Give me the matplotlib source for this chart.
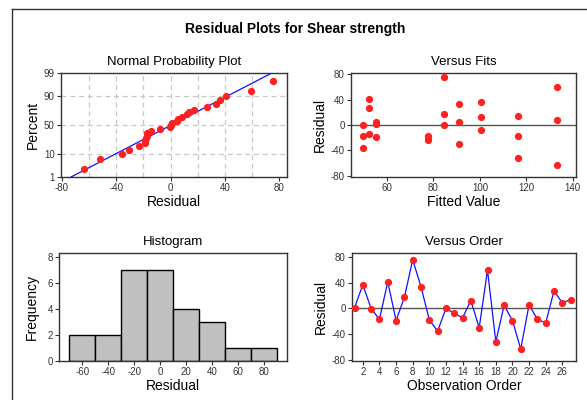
import numpy as np
import matplotlib
matplotlib.use('Agg')
import matplotlib.pyplot as plt
from matplotlib.lines import Line2D
from statistics import NormalDist

plt.rcParams['font.family'] = ['Liberation Sans', 'DejaVu Sans']
plt.rcParams['axes.unicode_minus'] = False

# residuals in observation order
residuals = [1, 36.5, -0.5, -17, 41, -19, 17, 75.5, 33.5, -18, -35.5, 0, -8, -14.5,
             12, -30.5, 59.5, -52, 4.5, -19, -63.5, 5.5, -17, -23, 27, 8.5, 13.5]
fits = [55.4, 100.3, 49.6, 49.6, 52.2, 55.4, 84.6, 84.6, 91.1, 77.7, 49.6, 84.6,
        100.3, 52.2, 100.3, 91.1, 133.1, 116.5, 55.4, 77.7, 133.1, 91.1, 116.5,
        77.7, 52.2, 133.1, 116.5]
hist_bins = [-70, -50, -30, -10, 10, 30, 50, 70, 90]
prob_ticks = [1, 10, 50, 90, 99]

res = np.array(residuals, dtype=float)
n = len(res)
order = np.arange(1, n + 1)

RED = '#ff2020'
BLUE = '#1010ff'
SPINE = '#333333'

nd = NormalDist()
_ppf = np.vectorize(lambda p: nd.inv_cdf(min(max(p, 1e-9), 1 - 1e-9)), otypes=[float])
_cdf = np.vectorize(nd.cdf, otypes=[float])


def fwd(p):
    return _ppf(np.asarray(p, dtype=float) / 100.0)


def inv(z):
    return _cdf(np.asarray(z, dtype=float)) * 100.0


def style(ax):
    for s in ax.spines.values():
        s.set_color(SPINE)
        s.set_linewidth(1.0)
    ax.tick_params(labelsize=7, length=3, width=0.8, color=SPINE, labelcolor='#333333', pad=1.5)


fig = plt.figure(figsize=(5.87, 4.0), dpi=100)

fig.text(0.503, 0.928, 'Residual Plots for Shear strength', ha='center', va='center',
         fontsize=10, fontweight='bold')

# normal probability plot
ax1 = fig.add_axes([0.1039, 0.5575, 0.385, 0.26])
style(ax1)
ax1.set_yscale('function', functions=(fwd, inv))
srt = np.sort(res)
pct = (np.arange(1, n + 1) - 0.3) / (n + 0.4) * 100
mu, sd = res.mean(), res.std(ddof=1)
pl = np.linspace(1, 99, 200)
ax1.plot(mu + sd * fwd(pl), pl, color=BLUE, lw=0.9, zorder=2)
ax1.plot(srt, pct, 'o', color=RED, ms=4.2, mec=RED, zorder=3)
ax1.set_ylim(1, 99)
ax1.set_xlim(-80.5, 85.6)
ax1.set_yticks(prob_ticks)
ax1.set_yticklabels([str(t) for t in prob_ticks])
ax1.set_xticks([-80, -40, 0, 40, 80])
ax1.minorticks_off()
for x in range(-60, 80, 20):
    ax1.axvline(x, color='#c8c8c8', lw=0.9, ls=(0, (4, 3)), zorder=1)
for y in [10, 50, 90]:
    ax1.axhline(y, color='#c8c8c8', lw=0.9, ls=(0, (4, 3)), zorder=1)
ax1.set_title('Normal Probability Plot', fontsize=9.5, pad=6)
ax1.set_xlabel('Residual', fontsize=10, labelpad=1)
ax1.set_ylabel('Percent', fontsize=10, labelpad=3)

# versus fits
ax2 = fig.add_axes([0.598, 0.5575, 0.383, 0.26])
style(ax2)
ax2.axhline(0, color='#555555', lw=1.0, zorder=1)
ax2.plot(fits, res, 'o', color=RED, ms=4.2, mec=RED, zorder=3)
ax2.set_xlim(44.5, 141.3)
ax2.set_ylim(-82, 82)
ax2.set_xticks([60, 80, 100, 120, 140])
ax2.set_yticks([-80, -40, 0, 40, 80])
ax2.set_title('Versus Fits', fontsize=9.5, pad=6)
ax2.set_xlabel('Fitted Value', fontsize=10, labelpad=1)
ax2.set_ylabel('Residual', fontsize=10, labelpad=3)

# histogram
ax3 = fig.add_axes([0.1005, 0.0975, 0.3884, 0.27])
style(ax3)
ax3.hist(res, bins=hist_bins, color='#c0c0c0', edgecolor='black', linewidth=1.0)
ax3.set_xlim(-78, 97.5)
ax3.set_ylim(0, 8.28)
ax3.set_xticks([-60, -40, -20, 0, 20, 40, 60, 80])
ax3.set_yticks([0, 2, 4, 6, 8])
ax3.set_title('Histogram', fontsize=9.5, pad=6)
ax3.set_xlabel('Residual', fontsize=10, labelpad=1)
ax3.set_ylabel('Frequency', fontsize=10, labelpad=6)

# versus order
ax4 = fig.add_axes([0.5997, 0.0975, 0.3816, 0.27])
style(ax4)
ax4.axhline(0, color='#555555', lw=1.0, zorder=1)
ax4.plot(order, res, '-', color=BLUE, lw=0.9, zorder=2)
ax4.plot(order, res, 'o', color=RED, ms=4.2, mec=RED, zorder=3)
ax4.set_xlim(0.7, 27.65)
ax4.set_ylim(-82, 86)
ax4.set_xticks(range(2, 27, 2))
ax4.set_yticks([-80, -40, 0, 40, 80])
ax4.set_title('Versus Order', fontsize=9.5, pad=6)
ax4.set_xlabel('Observation Order', fontsize=10, labelpad=1)
ax4.set_ylabel('Residual', fontsize=10, labelpad=3)

# outer frame (left and top edges)
fig.add_artist(Line2D([12 / 587, 12 / 587], [0, 391 / 400], color='#333333', lw=1.0))
fig.add_artist(Line2D([12 / 587, 1], [391 / 400, 391 / 400], color='#333333', lw=1.0))

fig.savefig('out.png', dpi=100)
